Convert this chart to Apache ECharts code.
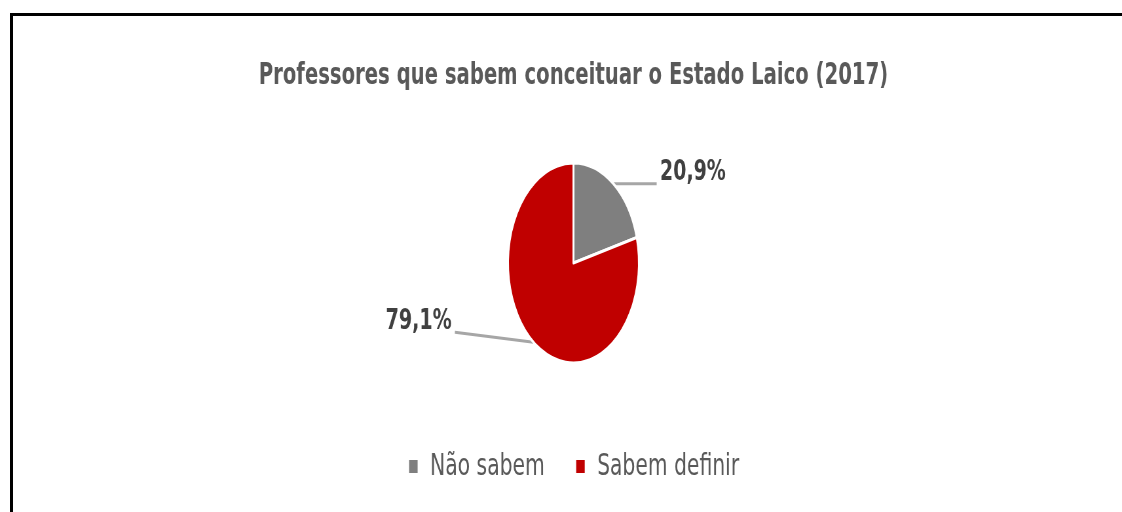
<!DOCTYPE html>
<html lang="pt">
  <head>
    <meta charset="UTF-8" />
    <script src="https://cdn.jsdelivr.net/npm/echarts@6/dist/echarts.min.js"></script>
    <title>Estado Laico</title>
    <style>
      html, body { margin: 0; padding: 0; background: #fff; overflow: hidden; }
      #page { position: relative; width: 1122px; height: 512px; overflow: hidden; }
      #frame {
        position: absolute; left: 10px; top: 13px; width: 1200px; height: 600px;
        border-top: 3px solid #000; border-left: 3px solid #000;
      }
      /* the original picture is squeezed horizontally, so the chart is too */
      #chart {
        position: absolute; left: 0; top: 0; width: 1751px; height: 512px;
        transform: scaleX(0.655); transform-origin: 0 0;
      }
    </style>
  </head>
  <body>
    <div id="page">
      <div id="frame"></div>
      <div id="chart"></div>
    </div>

    <script>
      // data
      const categories = ["Não sabem", "Sabem definir"];
      const shares = [20.9, 79.1];
      const sliceColors = ["#7f7f7f", "#c00000"];
      const lineLengths = [66, 120];
      const lineLift = [0, 10];

      const myChart = echarts.init(document.getElementById("chart"));

      const option = {
        animation: false,
        title: {
          text: "Professores que sabem conceituar o Estado Laico (2017)",
          left: "center",
          top: 56,
          textStyle: {
            fontFamily: "DejaVu Sans",
            fontSize: 30,
            fontWeight: "bold",
            color: "#595959"
          }
        },
        legend: {
          data: categories,
          top: 446,
          left: "center",
          icon: "rect",
          itemWidth: 15,
          itemHeight: 15,
          itemGap: 46,
          textStyle: {
            fontFamily: "DejaVu Sans",
            fontSize: 31,
            color: "#595959",
            padding: [0, 0, 0, 13]
          }
        },
        series: [
          {
            type: "pie",
            center: ["50%", 263],
            radius: 100,
            startAngle: 90,
            clockwise: true,
            itemStyle: { borderColor: "#fff", borderWidth: 3 },
            label: {
              show: true,
              position: "outside",
              formatter: (p) => p.value.toFixed(1).replace(".", ",") + "%",
              fontFamily: "DejaVu Sans",
              fontSize: 29,
              fontWeight: "bold",
              color: "#404040"
            },
            labelLine: {
              show: true,
              length: 0,
              lineStyle: { color: "#a6a6a6", width: 3 }
            },
            labelLayout: function (params) {
              const lift = lineLift[params.dataIndex];
              const pts = params.labelLinePoints;
              const out = { dy: -11 - lift };
              if (pts && pts.length) {
                out.labelLinePoints = pts.map((p, k) =>
                  k === pts.length - 1 ? [p[0], p[1] - lift] : [p[0], p[1]]
                );
              }
              return out;
            },
            emphasis: { disabled: true },
            data: categories.map((name, i) => ({
              name: name,
              value: shares[i],
              itemStyle: { color: sliceColors[i] },
              labelLine: { length2: lineLengths[i] }
            }))
          }
        ]
      };

      myChart.setOption(option);
    </script>
  </body>
</html>
